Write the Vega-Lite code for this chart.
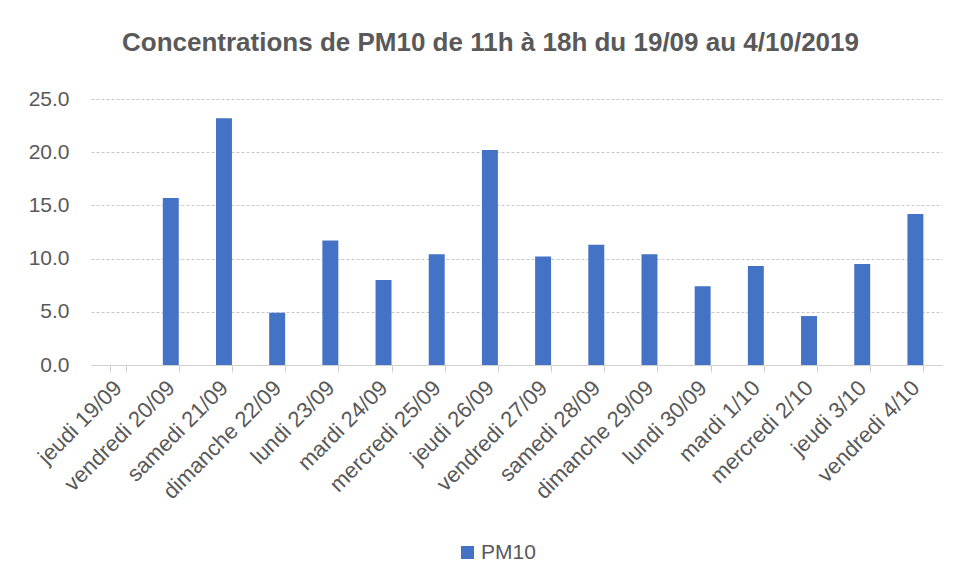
{
  "$schema": "https://vega.github.io/schema/vega-lite/v6.json",
  "width": 851,
  "height": 266,
  "autosize": {"type": "none"},
  "padding": {"left": 91, "top": 99, "right": 15, "bottom": 219},
  "background": "white",
  "title": {
    "text": "Concentrations de PM10 de 11h à 18h du 19/09  au 4/10/2019",
    "font": "Liberation Sans",
    "fontSize": 26,
    "fontWeight": "bold",
    "color": "#595959",
    "anchor": "middle",
    "dx": -26,
    "offset": 32
  },
  "data": {
    "values": [
      {"jour": "jeudi 19/09", "pm10": null, "serie": "PM10"},
      {"jour": "vendredi 20/09", "pm10": 15.7, "serie": "PM10"},
      {"jour": "samedi 21/09", "pm10": 23.2, "serie": "PM10"},
      {"jour": "dimanche 22/09", "pm10": 4.9, "serie": "PM10"},
      {"jour": "lundi 23/09", "pm10": 11.7, "serie": "PM10"},
      {"jour": "mardi 24/09", "pm10": 8.0, "serie": "PM10"},
      {"jour": "mercredi 25/09", "pm10": 10.4, "serie": "PM10"},
      {"jour": "jeudi 26/09", "pm10": 20.2, "serie": "PM10"},
      {"jour": "vendredi 27/09", "pm10": 10.2, "serie": "PM10"},
      {"jour": "samedi 28/09", "pm10": 11.3, "serie": "PM10"},
      {"jour": "dimanche 29/09", "pm10": 10.4, "serie": "PM10"},
      {"jour": "lundi 30/09", "pm10": 7.4, "serie": "PM10"},
      {"jour": "mardi 1/10", "pm10": 9.3, "serie": "PM10"},
      {"jour": "mercredi 2/10", "pm10": 4.6, "serie": "PM10"},
      {"jour": "jeudi 3/10", "pm10": 9.5, "serie": "PM10"},
      {"jour": "vendredi 4/10", "pm10": 14.2, "serie": "PM10"}
    ]
  },
  "mark": {"type": "bar"},
  "encoding": {
    "x": {
      "field": "jour",
      "type": "nominal",
      "sort": null,
      "scale": {
        "domain": ["jeudi 19/09", "vendredi 20/09", "samedi 21/09", "dimanche 22/09", "lundi 23/09", "mardi 24/09", "mercredi 25/09", "jeudi 26/09", "vendredi 27/09", "samedi 28/09", "dimanche 29/09", "lundi 30/09", "mardi 1/10", "mercredi 2/10", "jeudi 3/10", "vendredi 4/10"],
        "paddingInner": 0.7,
        "paddingOuter": 0.35
      },
      "axis": {
        "title": null,
        "labelAngle": -45,
        "labelAlign": "right",
        "labelBaseline": "middle",
        "labelFont": "Liberation Sans",
        "labelFontSize": 22,
        "labelColor": "#595959",
        "labelPadding": 12,
        "domainColor": "#d0d0d0",
        "ticks": true,
        "tickColor": "#d0d0d0",
        "tickSize": 7,
        "tickBand": "extent",
        "grid": false
      }
    },
    "y": {
      "field": "pm10",
      "type": "quantitative",
      "scale": {"domain": [0, 25]},
      "axis": {
        "title": null,
        "values": [0, 5, 10, 15, 20, 25],
        "format": ".1f",
        "labelFont": "Liberation Sans",
        "labelFontSize": 21,
        "labelColor": "#595959",
        "labelPadding": 22,
        "domain": false,
        "ticks": false,
        "grid": true,
        "gridColor": "#c8c8c8",
        "gridDash": [3, 2]
      }
    },
    "color": {
      "field": "serie",
      "type": "nominal",
      "scale": {"range": ["#4472C4"]},
      "legend": {
        "title": null,
        "orient": "none",
        "legendX": 366,
        "legendY": 443,
        "direction": "horizontal",
        "symbolType": "square",
        "symbolSize": 170,
        "symbolStrokeWidth": 0,
        "labelFont": "Liberation Sans",
        "labelFontSize": 21,
        "labelColor": "#595959",
        "labelOffset": 3,
        "padding": 0
      }
    }
  },
  "config": {"view": {"stroke": null}}
}
